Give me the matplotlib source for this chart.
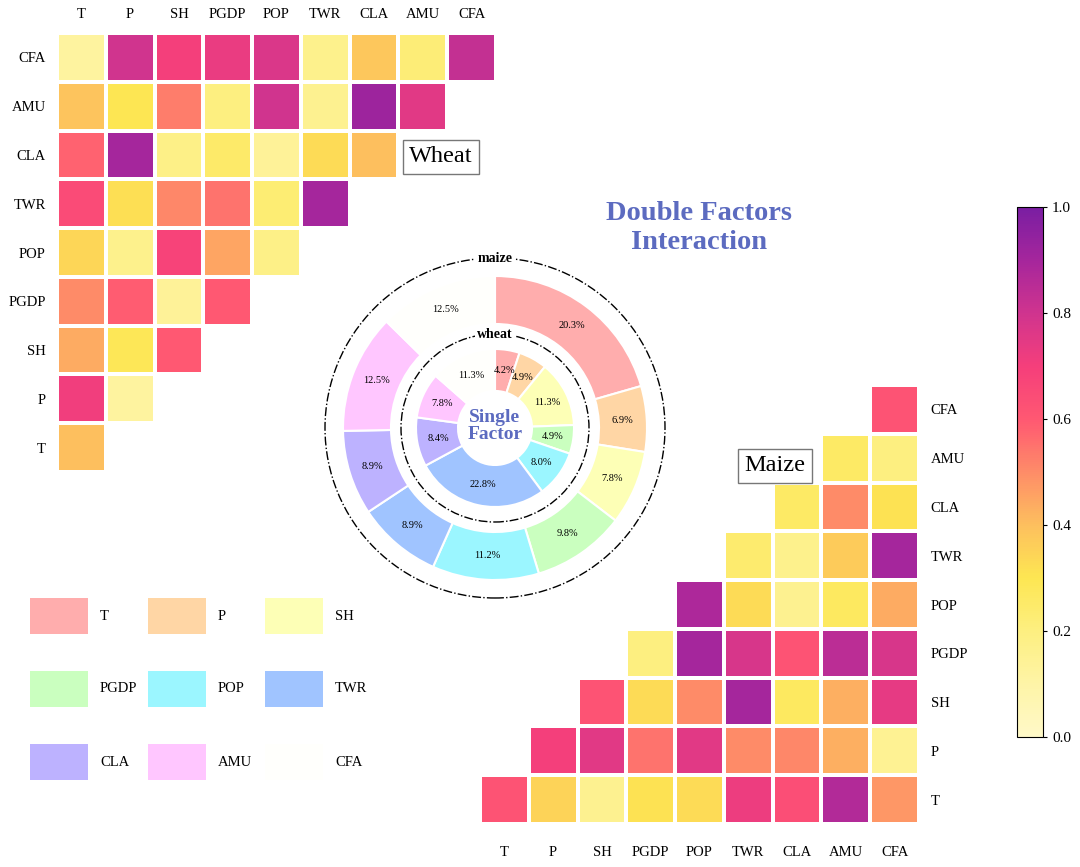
import matplotlib
matplotlib.use("Agg")
import matplotlib.pyplot as plt
import numpy as np
from matplotlib.colors import LinearSegmentedColormap
from matplotlib.patches import Circle, Rectangle
from matplotlib.cm import ScalarMappable

plt.rcParams['font.family'] = ['Liberation Serif', 'DejaVu Serif']

factors = ["T", "P", "SH", "PGDP", "POP", "TWR", "CLA", "AMU", "CFA"]
pastel = ["#ffadad", "#ffd6a5", "#fdffb6", "#caffbf", "#9bf6ff",
          "#a0c4ff", "#bdb2ff", "#ffc6ff", "#fffffc"]

# single factor shares (%)
maize_single = [20.3, 6.9, 7.8, 9.8, 11.2, 8.9, 8.9, 12.5, 12.5]
wheat_single = [4.2, 4.9, 11.3, 4.9, 8.0, 22.8, 8.4, 7.8, 11.3]

n = np.nan
# double factor interaction, rows/cols in order of factors (T ... CFA)
wheat_pair = [
    [0.40, n, n, n, n, n, n, n, n],
    [0.71, 0.12, n, n, n, n, n, n, n],
    [0.44, 0.29, 0.60, n, n, n, n, n, n],
    [0.50, 0.59, 0.14, 0.60, n, n, n, n, n],
    [0.34, 0.17, 0.68, 0.45, 0.18, n, n, n, n],
    [0.65, 0.32, 0.51, 0.55, 0.23, 0.90, n, n, n],
    [0.58, 0.90, 0.18, 0.25, 0.14, 0.33, 0.40, n, n],
    [0.39, 0.30, 0.53, 0.20, 0.80, 0.16, 0.92, 0.75, n],
    [0.12, 0.80, 0.70, 0.73, 0.77, 0.17, 0.38, 0.22, 0.83],
]
maize_pair = [
    [0.62, 0.35, 0.16, 0.31, 0.33, 0.72, 0.64, 0.87, 0.48],
    [n, 0.70, 0.75, 0.55, 0.75, 0.50, 0.51, 0.43, 0.15],
    [n, n, 0.62, 0.33, 0.50, 0.90, 0.27, 0.43, 0.74],
    [n, n, n, 0.20, 0.90, 0.78, 0.62, 0.85, 0.78],
    [n, n, n, n, 0.88, 0.33, 0.16, 0.27, 0.44],
    [n, n, n, n, n, 0.24, 0.17, 0.37, 0.90],
    [n, n, n, n, n, n, 0.26, 0.50, 0.31],
    [n, n, n, n, n, n, n, 0.26, 0.20],
    [n, n, n, n, n, n, n, n, 0.62],
]

cb_ticks = [0.0, 0.2, 0.4, 0.6, 0.8, 1.0]

cmap = LinearSegmentedColormap.from_list("heat", [
    (0.0, "#fff9c8"), (0.1, "#fef4a6"), (0.2, "#fdef80"), (0.3, "#fde652"),
    (0.4, "#fdbf5e"), (0.5, "#fe8c68"), (0.6, "#ff5872"), (0.7, "#f53f7b"),
    (0.8, "#d0348e"), (0.9, "#a6269c"), (1.0, "#7a1ea2")])

W, H = 1080, 867
fig = plt.figure(figsize=(W / 100, H / 100), dpi=100)


def px_axes(x0, y0, x1, y1):
    return fig.add_axes([x0 / W, 1 - y1 / H, (x1 - x0) / W, (y1 - y0) / H])


def heat(ax, data):
    arr = np.ma.masked_invalid(np.array(data, dtype=float))
    ax.pcolormesh(np.arange(10), np.arange(10), arr, cmap=cmap, vmin=0, vmax=1,
                  edgecolors="white", linewidth=1.6)
    ax.set_xlim(0, 9)
    ax.set_ylim(0, 9)
    ax.set_xticks(np.arange(9) + 0.5)
    ax.set_yticks(np.arange(9) + 0.5)
    ax.set_xticklabels(factors, fontsize=10.5)
    ax.set_yticklabels(factors, fontsize=10.5)
    for s in ax.spines.values():
        s.set_visible(False)


# wheat heatmap (top left)
axw = px_axes(57, 33, 496, 472)
heat(axw, wheat_pair)
axw.xaxis.tick_top()
axw.tick_params(axis="x", length=0, pad=9)
axw.tick_params(axis="y", length=0, pad=8)
fig.text(441 / W, 1 - 157 / H, "Wheat", fontsize=17.5, ha="center", va="center",
         bbox=dict(boxstyle="square,pad=0.25", fc="white", ec="#777777", lw=1))

# maize heatmap (bottom right)
axm = px_axes(480, 385, 919, 824)
heat(axm, maize_pair)
axm.yaxis.tick_right()
axm.tick_params(axis="x", length=0, pad=16)
axm.tick_params(axis="y", length=0, pad=8.5)
fig.text(775 / W, 1 - 466 / H, "Maize", fontsize=17.5, ha="center", va="center",
         bbox=dict(boxstyle="square,pad=0.25", fc="white", ec="#777777", lw=1))

# colorbar
cax = px_axes(1017, 207, 1043, 737)
cb = fig.colorbar(ScalarMappable(cmap=cmap, norm=plt.Normalize(0, 1)), cax=cax, ticks=cb_ticks)
cb.ax.set_yticklabels(["%.1f" % t for t in cb_ticks], fontsize=11)
cb.outline.set_linewidth(0.8)
cb.ax.tick_params(length=3, width=0.8)

title_color = "#5c6bc0"
fig.text(699 / W, 1 - 228 / H, "Double Factors\nInteraction", fontsize=20.5,
         fontweight="bold", color=title_color, ha="center", va="center",
         linespacing=1.2)

# donut of single factors
axp = px_axes(315, 248, 675, 608)
r_out, w_out = 1.52, 0.48
r_in, w_in = 0.79, 0.42
for vals, r, w in [(maize_single, r_out, w_out), (wheat_single, r_in, w_in)]:
    wedges, _ = axp.pie(vals, radius=r, startangle=90, counterclock=False,
                        colors=pastel,
                        wedgeprops=dict(width=w, edgecolor="white", linewidth=1.5))
    for wdg, v in zip(wedges, vals):
        ang = np.deg2rad((wdg.theta1 + wdg.theta2) / 2)
        rm = r - w / 2
        axp.text(rm * np.cos(ang), rm * np.sin(ang), "%.1f%%" % v,
                 fontsize=7.5, ha="center", va="center")

for rc, name in [(1.70, "maize"), (0.94, "wheat")]:
    axp.add_patch(Circle((0, 0), rc, fill=False, ls="-.", lw=1, ec="black"))
    axp.text(0, rc, name, fontsize=10, fontweight="bold", ha="center", va="center",
             bbox=dict(boxstyle="square,pad=0.15", fc="white", ec="none"))
axp.text(0, 0.02, "Single\nFactor", fontsize=14, fontweight="bold", color=title_color,
         ha="center", va="center", linespacing=1.05)
axp.set_xlim(-1.8, 1.8)
axp.set_ylim(-1.8, 1.8)
axp.set_aspect("equal")
axp.axis("off")

# legend grid
axl = px_axes(0, 580, 440, 800)
axl.set_xlim(0, 440)
axl.set_ylim(800, 580)
axl.axis("off")
for k, (name, col) in enumerate(zip(factors, pastel)):
    r, c = divmod(k, 3)
    x0 = 30 + c * 117.5
    y0 = 598 + r * 73
    axl.add_patch(Rectangle((x0, y0), 58, 36, fc=col, ec="none"))
    axl.text(x0 + 70, y0 + 18, name, fontsize=10.5, ha="left", va="center")

fig.savefig("out.png", dpi=100)
